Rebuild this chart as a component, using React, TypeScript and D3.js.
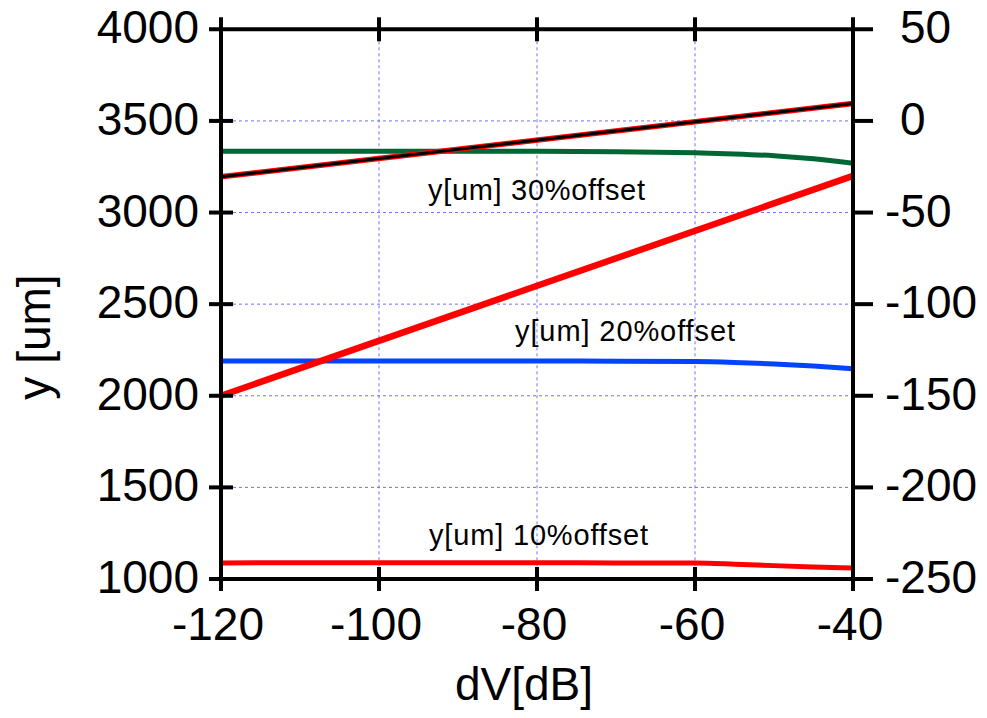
import React from "react";
import * as d3 from "d3";

// ---- data ----
const xTicks = [-120, -100, -80, -60, -40];
const yLeftTicks = [1000, 1500, 2000, 2500, 3000, 3500, 4000];
const yRightTicks = [-250, -200, -150, -100, -50, 0, 50];

const dV = [-120, -110, -100, -90, -80, -70, -60, -55, -50, -45, -40];
// left axis (y [um])
const y30 = [3335, 3335, 3335, 3335, 3334, 3332, 3326, 3320, 3310, 3293, 3269];
const y20 = [2190, 2190, 2190, 2190, 2190, 2189, 2187, 2182, 2174, 2163, 2148];
const y10 = [1088, 1089, 1089, 1089, 1089, 1088, 1087, 1081, 1073, 1066, 1060];
// right axis (linear series)
const steepDV = [-120, -40];
const steepVals = [-150, -30];
const shallowDV = [-120, -40];
const shallowVals = [-30.5, 9.5];

const labels = [
  { text: "y[um] 30%offset", x: 428, y: 200, w: 217 },
  { text: "y[um] 20%offset", x: 515, y: 341, w: 220 },
  { text: "y[um] 10%offset", x: 429, y: 545, w: 219 },
];

const W = 987;
const H = 718;
const X0 = 221;
const X1 = 853;
const Y0 = 579;
const Y1 = 29.3;

export default function App() {
  const x = d3.scaleLinear().domain([-120, -40]).range([X0, X1]);
  const yL = d3.scaleLinear().domain([1000, 4000]).range([Y0, Y1]);
  const yR = d3.scaleLinear().domain([-250, 50]).range([Y0, Y1]);

  const lineL = d3
    .line<[number, number]>()
    .x((d) => x(d[0]))
    .y((d) => yL(d[1]))
    .curve(d3.curveMonotoneX);
  const lineR = d3
    .line<[number, number]>()
    .x((d) => x(d[0]))
    .y((d) => yR(d[1]));

  const zip = (a: number[], b: number[]) => a.map((v, i) => [v, b[i]] as [number, number]);

  const font = "'Liberation Sans', Arial, sans-serif";
  const grid = "#7070ff";
  const fs = 46;

  return (
    <svg width={W} height={H} style={{ position: "absolute", left: 0, top: 0, background: "#fff" }}>
      <rect x={0} y={0} width={W} height={H} fill="#fff" />
      {/* grid */}
      {xTicks.slice(1, -1).map((t) => (
        <line key={"gx" + t} x1={x(t)} x2={x(t)} y1={Y1} y2={Y0} stroke={grid} strokeWidth={1} strokeDasharray="3,3" />
      ))}
      {yLeftTicks.slice(1, -1).map((t) => (
        <line key={"gy" + t} x1={X0} x2={X1} y1={yL(t)} y2={yL(t)} stroke={grid} strokeWidth={1} strokeDasharray="3,3" />
      ))}

      {/* series */}
      <path d={lineL(zip(dV, y30)) || ""} fill="none" stroke="#006633" strokeWidth={5} />
      <path d={lineL(zip(dV, y20)) || ""} fill="none" stroke="#0044ff" strokeWidth={5} />
      <path d={lineL(zip(dV, y10)) || ""} fill="none" stroke="#ff0000" strokeWidth={5} />
      <path d={lineR(zip(steepDV, steepVals)) || ""} fill="none" stroke="#ff0000" strokeWidth={6.5} />
      <path d={lineR(zip(shallowDV, shallowVals)) || ""} fill="none" stroke="#ff0000" strokeWidth={5.5} />
      <path d={lineR(zip(shallowDV, shallowVals)) || ""} fill="none" stroke="#000000" strokeWidth={3} />

      {/* frame */}
      <line x1={X0 - 12} x2={X1 + 20} y1={Y1} y2={Y1} stroke="#000" strokeWidth={4} />
      <line x1={X0 - 12} x2={X1 + 20} y1={Y0} y2={Y0} stroke="#000" strokeWidth={4} />
      <line x1={X0} x2={X0} y1={Y1 - 12} y2={Y0 + 12} stroke="#000" strokeWidth={4} />
      <line x1={X1} x2={X1} y1={Y1 - 12} y2={Y0 + 12} stroke="#000" strokeWidth={4} />
      {xTicks.slice(1, -1).map((t) => (
        <g key={"tx" + t}>
          <line x1={x(t)} x2={x(t)} y1={Y0 - 12} y2={Y0 + 12} stroke="#000" strokeWidth={4} />
          <line x1={x(t)} x2={x(t)} y1={Y1 - 12} y2={Y1 + 12} stroke="#000" strokeWidth={4} />
        </g>
      ))}
      {yLeftTicks.slice(1, -1).map((t) => (
        <line key={"tl" + t} x1={X0 - 12} x2={X0 + 12} y1={yL(t)} y2={yL(t)} stroke="#000" strokeWidth={4} />
      ))}
      {yRightTicks.slice(1, -1).map((t) => (
        <line key={"tr" + t} x1={X1} x2={X1 + 20} y1={yR(t)} y2={yR(t)} stroke="#000" strokeWidth={4} />
      ))}

      {/* tick labels */}
      {yLeftTicks.map((t) => (
        <text key={"ll" + t} x={199} y={yL(t) + 14} fontSize={fs} fontFamily={font} textAnchor="end" fill="#000">
          {t}
        </text>
      ))}
      {yRightTicks.map((t) => (
        <text key={"rl" + t} x={t < 0 ? 885 : 900} y={yR(t) + 14} fontSize={fs} fontFamily={font} textAnchor="start" fill="#000">
          {t < 0 ? "-" + Math.abs(t) : t}
        </text>
      ))}
      {xTicks.map((t) => (
        <text key={"xl" + t} x={x(t) - 3} y={640} fontSize={fs} fontFamily={font} textAnchor="middle" fill="#000">
          {"-" + Math.abs(t)}
        </text>
      ))}

      {/* axis titles */}
      <text x={524} y={700} fontSize={fs} fontFamily={font} textAnchor="middle" fill="#000">
        dV[dB]
      </text>
      <text
        transform={`translate(50,337) rotate(-90)`}
        fontSize={fs}
        fontFamily={font}
        textAnchor="middle"
        fill="#000"
      >
        y [um]
      </text>

      {/* series labels */}
      {labels.map((l) => (
        <text key={l.text} x={l.x} y={l.y} fontSize={29} fontFamily={font} fill="#000" textLength={l.w} lengthAdjust="spacing">
          {l.text}
        </text>
      ))}
    </svg>
  );
}
